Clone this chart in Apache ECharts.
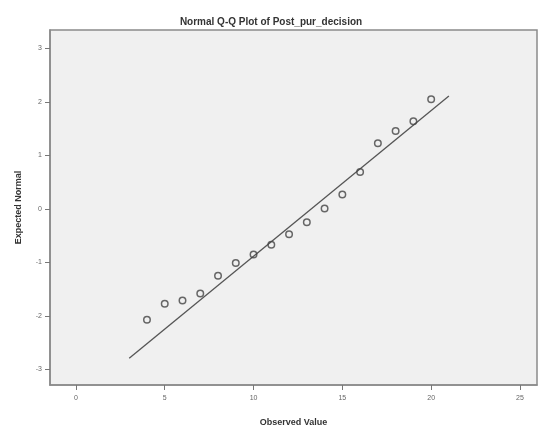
<!DOCTYPE html>
<html>
<head>
<meta charset="utf-8">
<script src="https://cdn.jsdelivr.net/npm/echarts@6/dist/echarts.min.js"></script>
<style>
  html, body { margin: 0; padding: 0; background: #ffffff; }
  #chart { width: 539px; height: 432px; }
</style>
</head>
<body>
<div id="chart"></div>
<script>
// Observed scores and their expected normal quantiles
const observed = [4, 5, 6, 7, 8, 9, 10, 11, 12, 13, 14, 15, 16, 17, 18, 19, 20];
const expectedNormal = [-2.07, -1.77, -1.71, -1.58, -1.25, -1.01, -0.85, -0.67, -0.47, -0.25, 0.01, 0.27, 0.69, 1.23, 1.46, 1.64, 2.05];

// Reference line endpoints (normal fit)
const refLineX = [3, 21];
const refLineY = [-2.79, 2.11];

// Tick positions
const xTicks = [0, 5, 10, 15, 20, 25];
const yTicks = [-3, -2, -1, 0, 1, 2, 3];

const chart = echarts.init(document.getElementById('chart'), null, { renderer: 'canvas' });

const tickFont = { fontFamily: 'Liberation Sans', fontSize: 7, color: '#666' };
const frameLine = { show: true, onZero: false, lineStyle: { color: '#8a8a8a', width: 1.5 } };

chart.setOption({
  animation: false,
  backgroundColor: '#ffffff',
  title: {
    text: 'Normal Q-Q Plot of Post_pur_decision',
    left: 266,
    textAlign: 'center',
    top: 12,
    textStyle: { fontFamily: 'Liberation Sans', fontSize: 10, fontWeight: 'bold', color: '#333' }
  },
  grid: {
    left: 50, top: 30, right: 2, bottom: 47,
    outerBoundsMode: 'none',
    containLabel: false,
    show: true,
    backgroundColor: '#f0f0f0',
    borderColor: '#8a8a8a',
    borderWidth: 1.5
  },
  xAxis: {
    type: 'value',
    min: -1.46,
    max: 25.96,
    name: 'Observed Value',
    nameLocation: 'middle',
    nameGap: 33,
    nameTextStyle: { fontFamily: 'Liberation Sans', fontSize: 9, fontWeight: 'bold', color: '#333' },
    axisLine: frameLine,
    splitLine: { show: false },
    axisTick: { show: true, length: 5, customValues: xTicks, lineStyle: { color: '#777', width: 1 } },
    axisLabel: { customValues: xTicks, margin: 10, ...tickFont }
  },
  yAxis: {
    type: 'value',
    min: -3.29,
    max: 3.346,
    name: 'Expected Normal',
    nameLocation: 'middle',
    nameGap: 27,
    nameTextStyle: { fontFamily: 'Liberation Sans', fontSize: 9, fontWeight: 'bold', color: '#333' },
    axisLine: frameLine,
    splitLine: { show: false },
    axisTick: { show: true, length: 5, customValues: yTicks, lineStyle: { color: '#777', width: 1 } },
    axisLabel: { customValues: yTicks, margin: 8, ...tickFont }
  },
  series: [
    {
      type: 'line',
      data: refLineX.map((x, i) => [x, refLineY[i]]),
      symbol: 'none',
      lineStyle: { color: '#555', width: 1.3 },
      silent: true,
      z: 2
    },
    {
      type: 'scatter',
      data: observed.map((x, i) => [x, expectedNormal[i]]),
      symbol: 'circle',
      symbolSize: 6.5,
      itemStyle: { color: 'rgba(0,0,0,0)', borderColor: '#444', borderWidth: 1.5 },
      z: 3
    }
  ]
});
</script>
</body>
</html>
